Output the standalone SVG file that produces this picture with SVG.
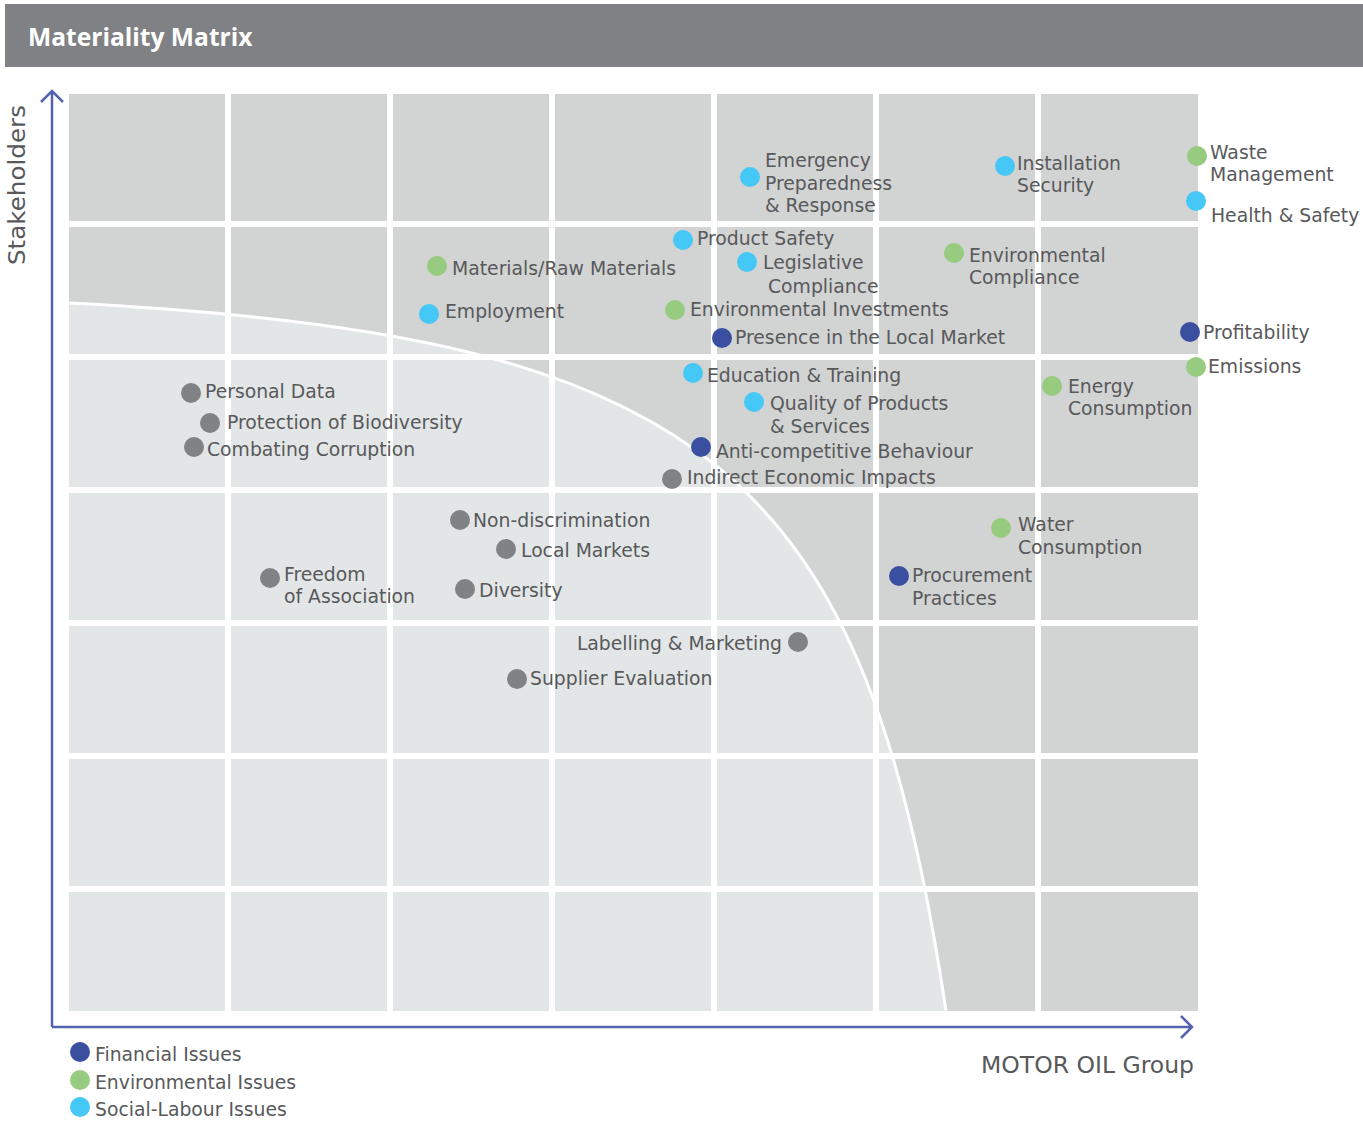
<svg xmlns="http://www.w3.org/2000/svg" width="1363" height="1122" viewBox="0 0 1363 1122">
<style>
.lbl{font-family:"DejaVu Sans","Liberation Sans",sans-serif;font-size:18.8px;fill:#58595b}
.fin{fill:#3a4fa0}.env{fill:#97cb80}.soc{fill:#45c8f5}.gry{fill:#808285}
.gap{fill:#ffffff}
.axis{stroke:#5263b0;stroke-width:2.5;fill:none}
</style>
<rect width="1363" height="1122" fill="#ffffff"/>
<g id="header">
<rect x="5" y="4" width="1358" height="63" fill="#808184"/>
<text x="28" y="46" style="font-family:'Open Sans','DejaVu Sans',sans-serif;font-weight:700;font-size:24.6px;fill:#ffffff">Materiality Matrix</text>
</g>
<g id="matrix">
<rect x="69" y="94" width="1129" height="917" fill="#d2d3d3"/>
<path d="M69,303 C709,335 865,471 946,1011 L69,1011 Z" fill="#e3e6e7"/>
<path d="M69,303 C709,335 865,471 946,1011" fill="none" stroke="#ffffff" stroke-width="3"/>
<rect class="gap" x="225" y="94" width="6" height="920"/>
<rect class="gap" x="387" y="94" width="6" height="920"/>
<rect class="gap" x="549" y="94" width="6" height="920"/>
<rect class="gap" x="711" y="94" width="6" height="920"/>
<rect class="gap" x="873" y="94" width="6" height="920"/>
<rect class="gap" x="1035" y="94" width="6" height="920"/>
<rect class="gap" x="69" y="221" width="1129" height="6"/>
<rect class="gap" x="69" y="354" width="1129" height="6"/>
<rect class="gap" x="69" y="487" width="1129" height="6"/>
<rect class="gap" x="69" y="620" width="1129" height="6"/>
<rect class="gap" x="69" y="753" width="1129" height="6"/>
<rect class="gap" x="69" y="886" width="1129" height="6"/>
</g>
<g id="connectors">
<path class="axis" d="M52,1027 L52,91 M41,102 L52,91 L63,102"/>
<path class="axis" d="M52,1027 L1192,1027 M1181,1016 L1192,1027 L1181,1038"/>
</g>
<g id="axis-labels">
<text transform="translate(25,265) rotate(-90)" style="font-family:'DejaVu Sans',sans-serif;font-size:23px;fill:#58595b" textLength="160" lengthAdjust="spacingAndGlyphs">Stakeholders</text>
<text x="1194" y="1073" text-anchor="end" style="font-family:'DejaVu Sans',sans-serif;font-size:23.5px;fill:#58595b">MOTOR OIL Group</text>
</g>
<g id="n-emergency"><circle class="soc" cx="750" cy="177" r="10"/><text class="lbl" x="765" y="167">Emergency</text><text class="lbl" x="765" y="190">Preparedness</text><text class="lbl" x="765" y="212">&amp; Response</text></g>
<g id="n-installation"><circle class="soc" cx="1005" cy="166" r="10"/><text class="lbl" x="1017" y="170">Installation</text><text class="lbl" x="1017" y="192">Security</text></g>
<g id="n-waste"><circle class="env" cx="1197" cy="156" r="10"/><text class="lbl" x="1210" y="159">Waste</text><text class="lbl" x="1210" y="181">Management</text></g>
<g id="n-health"><circle class="soc" cx="1196" cy="201" r="10"/><text class="lbl" x="1211" y="222">Health &amp; Safety</text></g>
<g id="n-product-safety"><circle class="soc" cx="683" cy="240" r="10"/><text class="lbl" x="697" y="245">Product Safety</text></g>
<g id="n-legislative"><circle class="soc" cx="747" cy="262" r="10"/><text class="lbl" x="763" y="269">Legislative</text><text class="lbl" x="768" y="293">Compliance</text></g>
<g id="n-env-compliance"><circle class="env" cx="954" cy="253" r="10"/><text class="lbl" x="969" y="262">Environmental</text><text class="lbl" x="969" y="284">Compliance</text></g>
<g id="n-materials"><circle class="env" cx="437" cy="266" r="10"/><text class="lbl" x="452" y="275">Materials/Raw Materials</text></g>
<g id="n-employment"><circle class="soc" cx="429" cy="314" r="10"/><text class="lbl" x="445" y="318">Employment</text></g>
<g id="n-env-investments"><circle class="env" cx="675" cy="310" r="10"/><text class="lbl" x="690" y="316">Environmental Investments</text></g>
<g id="n-presence"><circle class="fin" cx="722" cy="338" r="10"/><text class="lbl" x="735" y="344">Presence in the Local Market</text></g>
<g id="n-profitability"><circle class="fin" cx="1190" cy="332" r="10"/><text class="lbl" x="1203" y="339">Profitability</text></g>
<g id="n-emissions"><circle class="env" cx="1196" cy="367" r="10"/><text class="lbl" x="1208" y="373">Emissions</text></g>
<g id="n-education"><circle class="soc" cx="693" cy="373" r="10"/><text class="lbl" x="707" y="382">Education &amp; Training</text></g>
<g id="n-quality"><circle class="soc" cx="754" cy="402" r="10"/><text class="lbl" x="770" y="410">Quality of Products</text><text class="lbl" x="770" y="433">&amp; Services</text></g>
<g id="n-anticompetitive"><circle class="fin" cx="701" cy="447" r="10"/><text class="lbl" x="716" y="458">Anti-competitive Behaviour</text></g>
<g id="n-indirect"><circle class="gry" cx="672" cy="479" r="10"/><text class="lbl" x="687" y="484">Indirect Economic Impacts</text></g>
<g id="n-energy"><circle class="env" cx="1052" cy="386" r="10"/><text class="lbl" x="1068" y="393">Energy</text><text class="lbl" x="1068" y="415">Consumption</text></g>
<g id="n-personal-data"><circle class="gry" cx="191" cy="393" r="10"/><text class="lbl" x="205" y="398">Personal Data</text></g>
<g id="n-biodiversity"><circle class="gry" cx="210" cy="423" r="10"/><text class="lbl" x="227" y="429">Protection of Biodiversity</text></g>
<g id="n-corruption"><circle class="gry" cx="194" cy="447" r="10"/><text class="lbl" x="207" y="456">Combating Corruption</text></g>
<g id="n-freedom"><circle class="gry" cx="270" cy="578" r="10"/><text class="lbl" x="284" y="581">Freedom</text><text class="lbl" x="284" y="603">of Association</text></g>
<g id="n-nondiscrimination"><circle class="gry" cx="460" cy="520" r="10"/><text class="lbl" x="473" y="527">Non-discrimination</text></g>
<g id="n-local-markets"><circle class="gry" cx="506" cy="549" r="10"/><text class="lbl" x="521" y="557">Local Markets</text></g>
<g id="n-diversity"><circle class="gry" cx="465" cy="589" r="10"/><text class="lbl" x="479" y="597">Diversity</text></g>
<g id="n-labelling"><circle class="gry" cx="798" cy="642" r="10"/><text class="lbl" x="782" y="650" text-anchor="end">Labelling &amp; Marketing</text></g>
<g id="n-supplier"><circle class="gry" cx="517" cy="679" r="10"/><text class="lbl" x="530" y="685">Supplier Evaluation</text></g>
<g id="n-water"><circle class="env" cx="1001" cy="528" r="10"/><text class="lbl" x="1018" y="531">Water</text><text class="lbl" x="1018" y="554">Consumption</text></g>
<g id="n-procurement"><circle class="fin" cx="899" cy="576" r="10"/><text class="lbl" x="912" y="582">Procurement</text><text class="lbl" x="912" y="605">Practices</text></g>
<g id="legend">
<circle class="fin" cx="80" cy="1052" r="10"/><text class="lbl" x="95" y="1061">Financial Issues</text>
<circle class="env" cx="80" cy="1080" r="10"/><text class="lbl" x="95" y="1089">Environmental Issues</text>
<circle class="soc" cx="80" cy="1107" r="10"/><text class="lbl" x="95" y="1116">Social-Labour Issues</text>
</g>
</svg>
